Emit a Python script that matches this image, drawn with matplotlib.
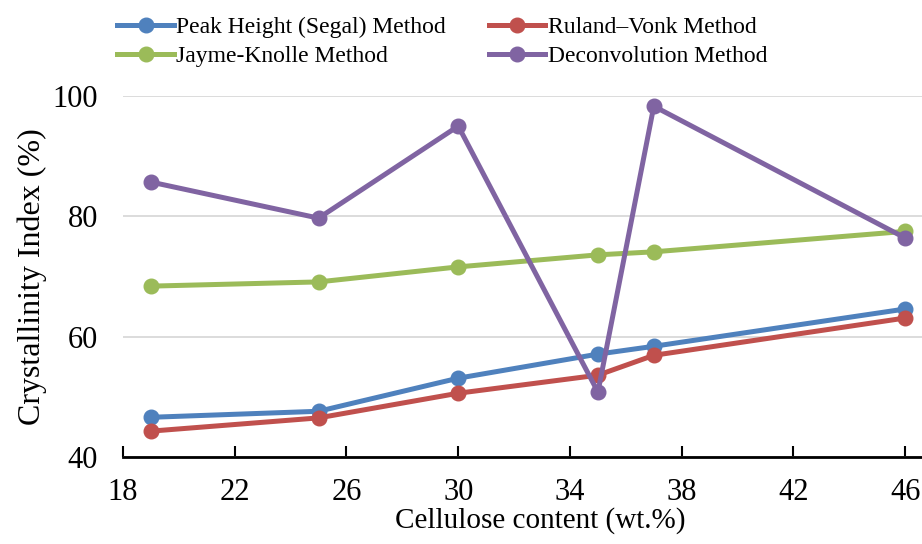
import matplotlib
matplotlib.use("agg")
import matplotlib.pyplot as plt

plt.rcParams["font.family"] = ["Liberation Serif", "DejaVu Serif"]

cellulose = [19, 25, 30, 35, 37, 46]
peak_height = [46.6, 47.6, 53.1, 57.1, 58.4, 64.6]
ruland_vonk = [44.3, 46.5, 50.6, 53.6, 56.9, 63.1]
jayme_knolle = [68.4, 69.1, 71.6, 73.6, 74.1, 77.5]
deconvolution = [85.7, 79.7, 95.0, 50.8, 98.3, 76.4]

series = [
    ("Peak Height (Segal) Method", peak_height, "#4F81BD"),
    ("Ruland\u2013Vonk Method", ruland_vonk, "#C0504D"),
    ("Jayme-Knolle Method", jayme_knolle, "#9BBB59"),
    ("Deconvolution Method", deconvolution, "#8064A2"),
]

fig = plt.figure(figsize=(9.22, 5.44), dpi=100)
ax = fig.add_axes([123 / 922, 1 - 457 / 544, 1 - 123 / 922, (457 - 96) / 544])

lines = {}
for name, vals, col in series:
    lines[name], = ax.plot(cellulose, vals, color=col, lw=3.6, marker="o", ms=10.5,
                           label=name, clip_on=False, zorder=3)

ax.set_xlim(18, 46.6)
ax.set_ylim(40, 100)
ax.set_xticks(range(18, 47, 4))
ax.set_yticks([40, 60, 80, 100])
ax.yaxis.grid(True, color="#d9d9d9", lw=1.3)
ax.set_axisbelow(True)
for s in ("top", "right", "left"):
    ax.spines[s].set_visible(False)
ax.spines["bottom"].set_linewidth(2)
ax.tick_params(axis="x", direction="in", length=8, width=1.5, labelsize=22, pad=15)
ax.tick_params(axis="y", length=0, labelsize=22, pad=18)
ax.set_xlabel("Cellulose content (wt.%)", fontsize=21, labelpad=2)
ax.xaxis.set_label_coords(0.522, -0.14)
ax.set_ylabel("Crystallinity Index (%)", fontsize=23, labelpad=4)

# legend filled row by row like the original
order = [series[0][0], series[2][0], series[1][0], series[3][0]]
fig.legend([lines[n] for n in order], order, loc="upper left",
           bbox_to_anchor=(108 / 922, 1 - 7 / 544), ncol=2,
           frameon=False, fontsize=17, handlelength=2.4, handletextpad=0.1,
           columnspacing=1.8, labelspacing=0.32, borderaxespad=0)

fig.savefig("out.png", dpi=100)
